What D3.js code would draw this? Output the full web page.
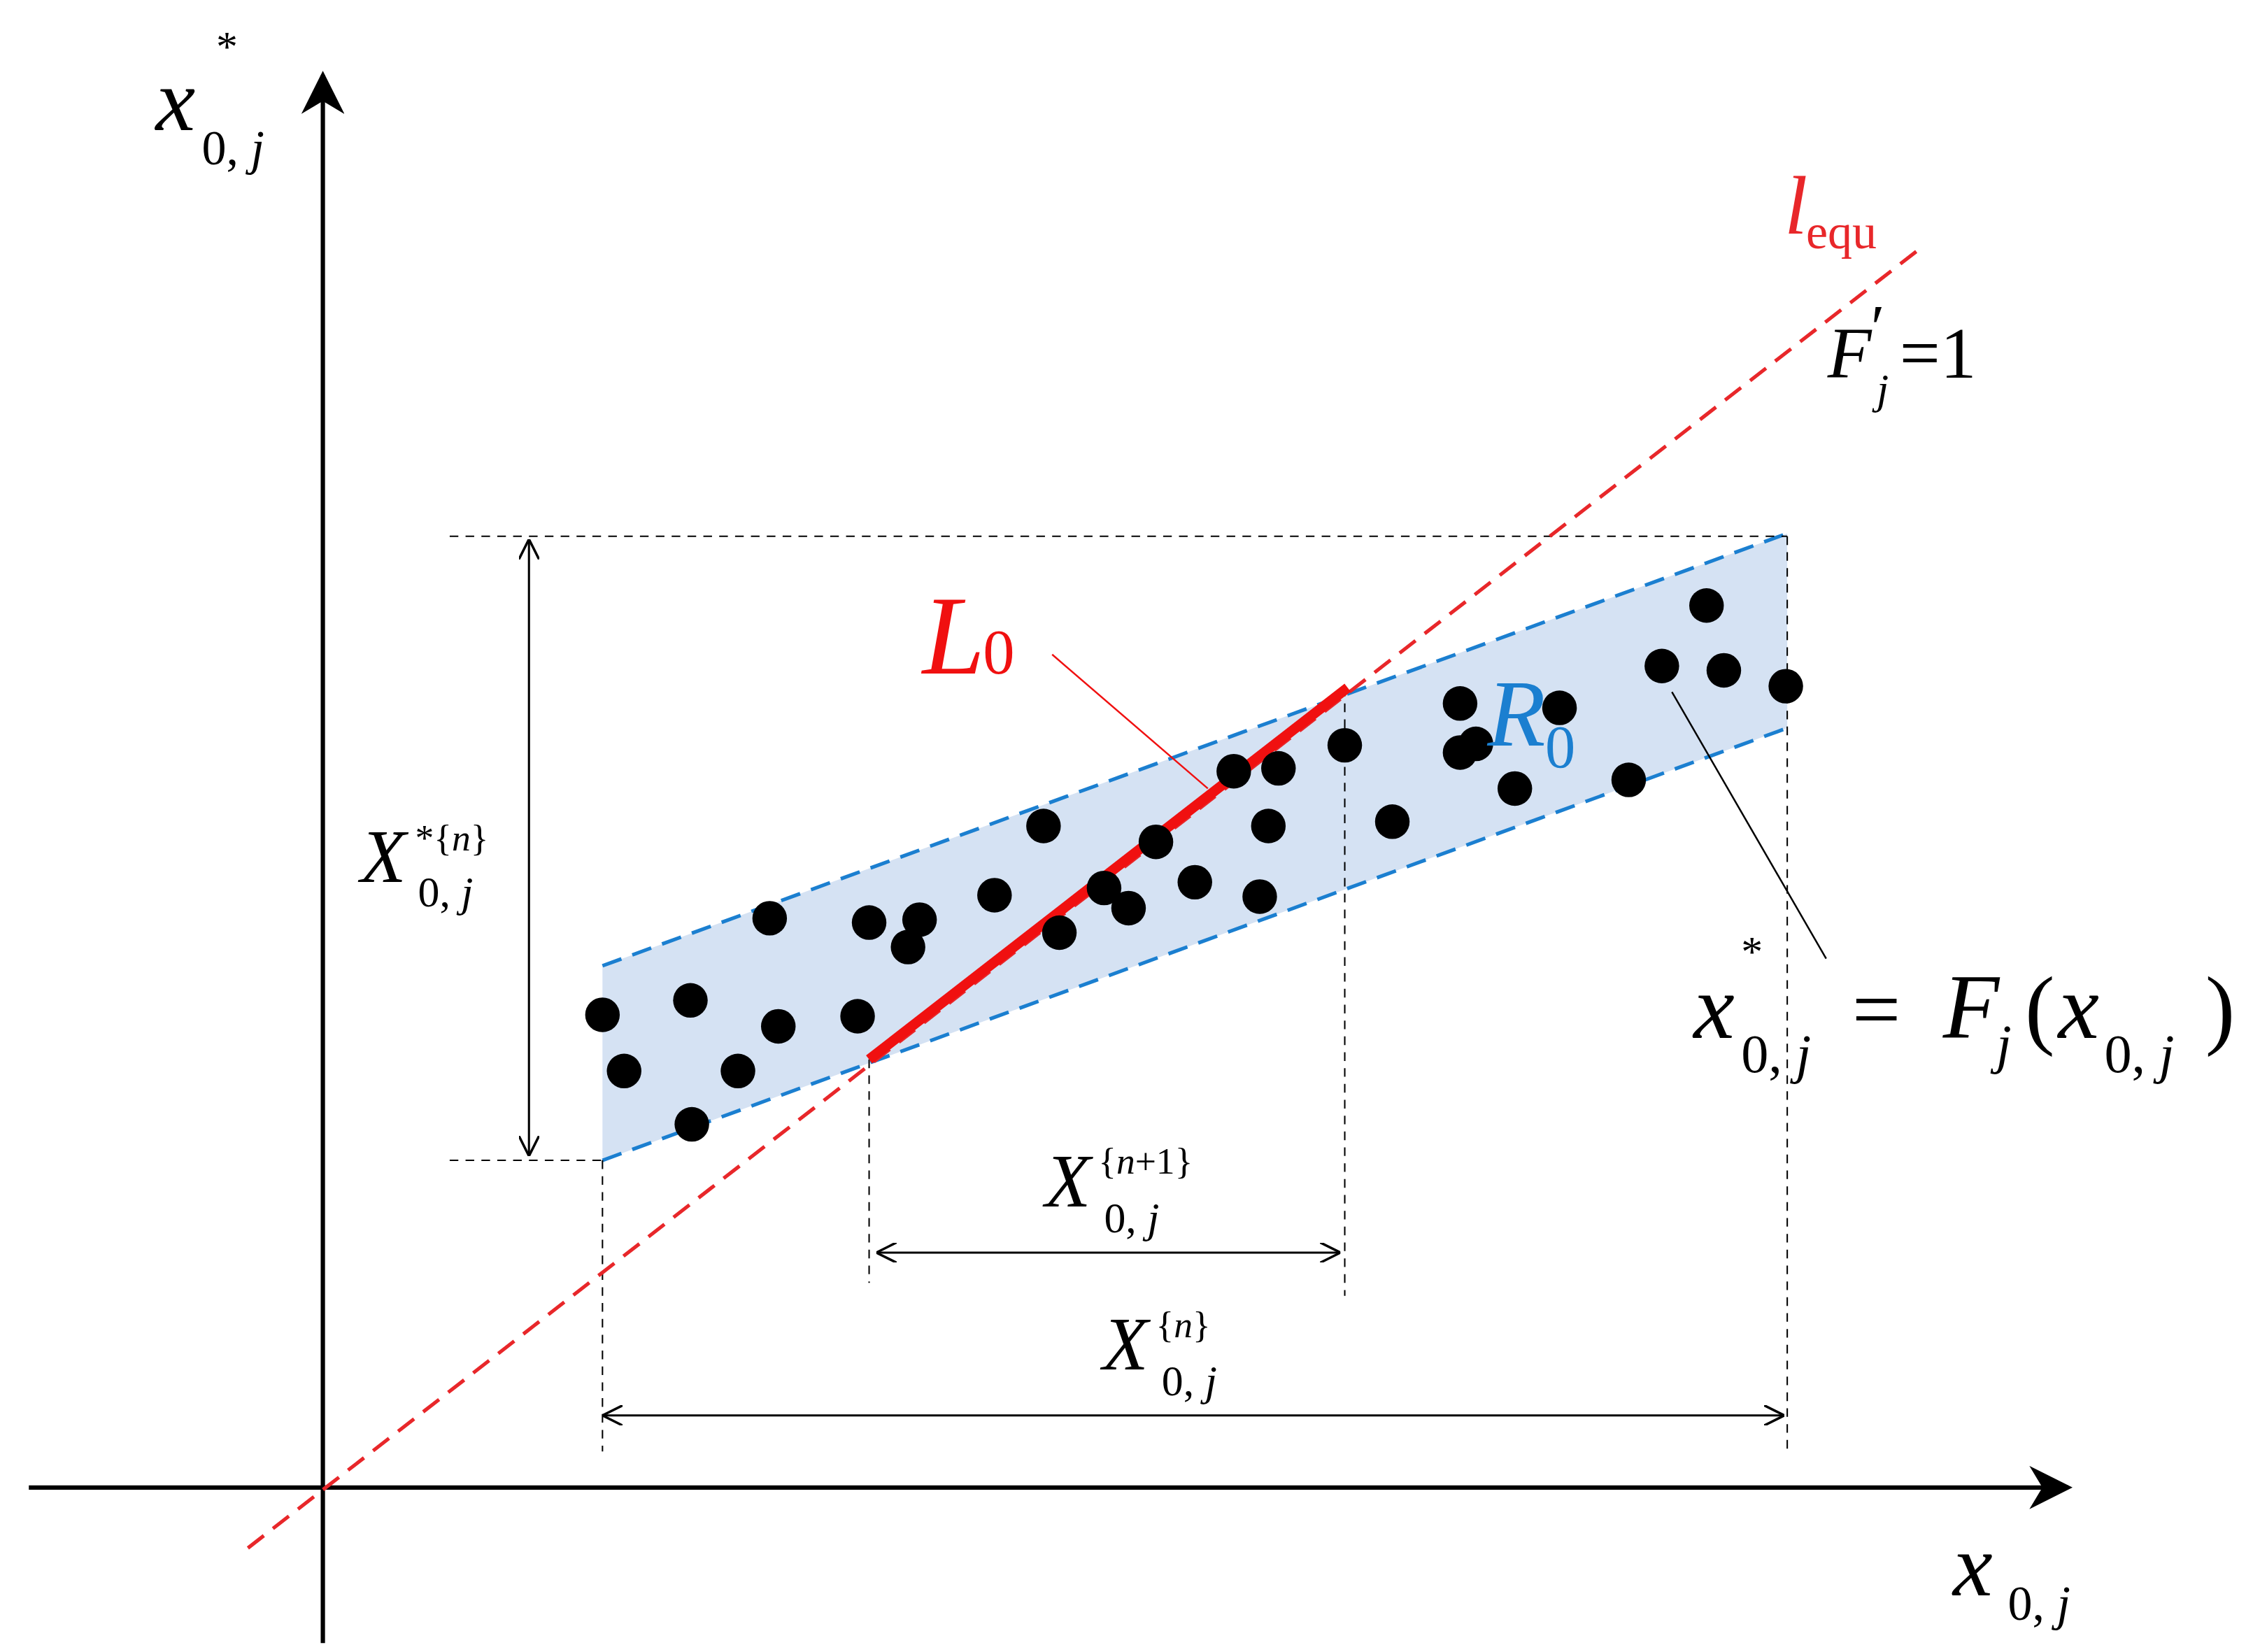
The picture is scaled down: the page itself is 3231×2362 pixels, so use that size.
<!DOCTYPE html><html><head><meta charset="utf-8">
<script src="https://d3js.org/d3.v7.min.js"></script>
<style>body{margin:0;background:#fff}text{font-family:"Liberation Serif","DejaVu Serif",serif}</style></head><body>
<script>
// data in chart units (origin at axes crossing)
const pts=[[418,702],[433,741],[480,778],[479,692],[512,741],[540,710],[534,635],[595,703],[603,638],[630,655],[638,636],[690,619],[724,571],[735,645],[766,614],[783,628],[802,582],[829,610],[856,533],[874,620],[880,571],[887,531],[933,515],[966,568],[1013,486],[1013,520],[1024,514],[1051,545],[1082,489],[1130,539],[1153,460],[1184,418],[1196,463],[1239,474]].map(p=>[p[0]-224,1030-p[1]]);
const bandUpper=[[194,362],[1016,662]];
const bandLower=[[194,227],[1016,527]];
const equLine=[[-52,-42],[1106,858]];
const L0=[[379,297],[711,555]];

const W=3231,H=2362;
const svg=d3.select("body").append("svg").attr("width",W).attr("height",H).attr("viewBox","0 0 1568 1142");
const x=d3.scaleLinear().domain([0,1]).range([224,225]);
const y=d3.scaleLinear().domain([0,1]).range([1030,1029]);
const line=d3.line().x(d=>x(d[0])).y(d=>y(d[1]));
const defs=svg.append("defs");
defs.append("marker").attr("id","ah").attr("viewBox","0 0 10 10").attr("refX",10).attr("refY",5).attr("markerWidth",14).attr("markerHeight",14).attr("markerUnits","userSpaceOnUse").attr("orient","auto-start-reverse").append("path").attr("d","M0,0L10,5L0,10").attr("fill","none").attr("stroke","#000").attr("stroke-width",1.2);
defs.append("marker").attr("id","big").attr("viewBox","0 0 10 10").attr("refX",9).attr("refY",5).attr("markerWidth",30).attr("markerHeight",30).attr("markerUnits","userSpaceOnUse").attr("orient","auto").append("path").attr("d","M0,0L10,5L0,10L3,5Z").attr("fill","#000");

svg.append("path").attr("d",line([bandUpper[0],bandUpper[1],bandLower[1],bandLower[0]])+"Z").attr("fill","#d5e2f3");
[bandUpper,bandLower].forEach(b=>svg.append("path").attr("d",line(b)).attr("stroke","#1b7fd0").attr("stroke-width",2.5).attr("stroke-dasharray","14,8").attr("fill","none"));

const guides=[[[88,660],[1016,660]],[[88,227],[194,227]],[[194,227],[194,25]],[[379,297],[379,142]],[[709,555],[709,133]],[[1016,660],[1016,25]]];
guides.forEach(g=>svg.append("path").attr("d",line(g)).attr("stroke","#000").attr("stroke-width",1).attr("stroke-dasharray","6,5"));
[[[143,658],[143,230]],[[384,163],[706,163]],[[194,50],[1014,50]]].forEach(a=>svg.append("path").attr("d",line(a)).attr("stroke","#000").attr("stroke-width",1.5).attr("marker-start","url(#ah)").attr("marker-end","url(#ah)"));

svg.append("path").attr("d",line([[0,-108],[0,980]])).attr("stroke","#000").attr("stroke-width",3).attr("marker-end","url(#big)");
svg.append("path").attr("d",line([[-204,0],[1211,0]])).attr("stroke","#000").attr("stroke-width",3).attr("marker-end","url(#big)");

svg.append("path").attr("d",line(equLine)).attr("stroke","#e8272a").attr("stroke-width",2.5).attr("stroke-dasharray","14,8");
svg.append("path").attr("d",line(L0)).attr("stroke","#f01010").attr("stroke-width",7);
svg.append("path").attr("d",line([[506,578],[614,485]])).attr("stroke","#f01010").attr("stroke-width",1.2);
svg.append("path").attr("d",line([[1043,367],[936,552]])).attr("stroke","#000").attr("stroke-width",1.2);

svg.selectAll("circle.p").data(pts).join("circle").attr("cx",d=>x(d[0])).attr("cy",d=>y(d[1])).attr("r",12).attr("fill","#000");

// text helper: each piece is its own text element
function t(px,py,str,size,opt){opt=opt||{};
  const e=svg.append("text").attr("x",px).attr("y",py).attr("font-size",size).attr("fill",opt.fill||"#000").text(str);
  if(opt.i)e.attr("font-style","italic");return e;}
function sub(px,py,size){ // "0, j"
  const e=svg.append("text").attr("x",px).attr("y",py).attr("font-size",size);
  e.append("tspan").text("0,");e.append("tspan").attr("font-style","italic").text(" j");}
function curly(px,py,size,pre,post){
  const e=svg.append("text").attr("x",px).attr("y",py).attr("font-size",size);
  e.append("tspan").text(pre+"{");e.append("tspan").attr("font-style","italic").text("n");e.append("tspan").text(post+"}");}

// axis labels
t(108,88,"x",62,{i:1}); t(150,40,"*",30); sub(140,112,34);
t(1355,1105,"x",62,{i:1}); sub(1393,1122,34);
t(1238,160,"l",58,{i:1,fill:"#e8272a"}); t(1253,170,"equ",34,{fill:"#e8272a"});
t(1268,260,"F",50,{i:1}); t(1298,240,"′",44); t(1302,278,"j",30,{i:1}); t(1318,260,"=1",50);
t(640,465,"L",78,{i:1,fill:"#f01010"}); t(682,465,"0",44,{fill:"#f01010"});
t(1032,515,"R",66,{i:1,fill:"#1b7fd0"}); t(1072,530,"0",42,{fill:"#1b7fd0"});
// equation
t(1175,718,"x",64,{i:1}); t(1208,668,"*",30); sub(1208,742,38);
t(1285,718,"=",60); t(1348,718,"F",64,{i:1}); t(1385,735,"j",38,{i:1});
t(1405,718,"(",62); t(1428,718,"x",64,{i:1}); sub(1460,742,38); t(1530,718,")",62);
// X labels
t(250,610,"X",52,{i:1}); curly(288,588,26,"*",""); sub(290,627,30);
t(725,835,"X",52,{i:1}); curly(762,812,26,"","+1"); sub(766,853,30);
t(765,948,"X",52,{i:1}); curly(802,926,26,"",""); sub(806,966,30);
</script></body></html>
